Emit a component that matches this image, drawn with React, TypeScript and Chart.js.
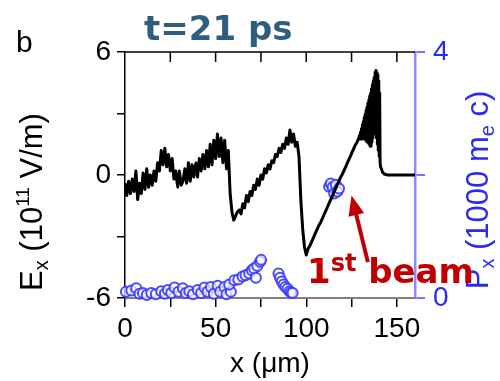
import { useEffect, useRef } from "react";
import { Chart, registerables } from "chart.js";

Chart.register(...registerables);

const SANS = '"Liberation Sans", Arial, Helvetica, sans-serif';
const WIDE_BOLD = '"DejaVu Sans", Verdana, sans-serif';

// Longitudinal field Ex (10^11 V/m), sampled every 1 µm from x = 0 to 129 µm
const EX_STEP_UM = 1;
const exCoarse = [
  -0.4, -1.0, -0.3, -0.9, -0.2, -0.8, 0.2, -1.2, -0.4, -0.9,
  0.1, -0.7, 0.3, -0.6, 0.0, -0.5, 0.2, -0.3, 0.6, 0.2,
  1.2, 0.5, 1.3, 0.4, 1.0, 0.2, 0.8, -0.2, 0.2, -0.6,
  0.2, -0.5, -0.3, 0.3, -0.4, 0.6, -0.3, 0.5, -0.1, 0.6,
  -0.1, 0.8, 0.2, 1.0, 0.3, 1.2, 0.4, 1.5, 0.5, 1.7,
  0.8, 2.0, 0.9, 1.8, 0.6, 1.7, 0.3, 1.2, -0.9, -1.8,
  -2.2, -2.0, -1.8, -1.7, -1.9, -1.4, -1.6, -1.0, -1.3, -0.8,
  -1.0, -0.5, -0.7, -0.2, -0.5, 0.0, -0.2, 0.3, 0.1, 0.5,
  0.3, 0.7, 0.6, 1.0, 0.9, 1.3, 1.1, 1.5, 1.3, 1.8,
  1.5, 2.2, 1.6, 2.0, 1.4, 1.6, 0.9, -1.2, -2.6, -3.5,
  -3.9, -3.6, -3.45, -3.25, -3.05, -2.85, -2.65, -2.45, -2.3, -2.1,
  -1.9, -1.7, -1.5, -1.3, -1.1, -0.9, -0.7, -0.5, -0.3, -0.1,
  0.05, 0.25, 0.45, 0.65, 0.85, 1.05, 1.25, 1.45, 1.6, 1.8,
];

// Finer sampling through the spike at the wake front
const spikeX = [
  129.5, 129.75, 130, 130.25, 130.5, 130.75, 131, 131.25, 131.5, 131.75,
  132, 132.25, 132.5, 132.75, 133, 133.25, 133.5, 133.75, 134, 134.25,
  134.5, 134.75, 135, 135.25, 135.5, 135.75, 136, 136.25, 136.5, 136.75,
  137, 137.25, 137.5, 137.75, 138, 138.25, 138.5, 138.75, 139, 139.25,
  139.5, 139.75, 140, 140.25, 140.5, 140.75, 141, 141.5, 142,
];
const spikeEx = [
  1.95, 1.75, 2.1, 1.8, 2.25, 1.75, 2.45, 1.85, 2.6, 1.8,
  2.8, 1.75, 2.95, 1.7, 3.15, 1.65, 3.3, 1.6, 3.5, 1.55,
  3.65, 1.5, 3.85, 1.4, 4.0, 1.4, 4.2, 1.6, 4.4, 1.8,
  4.6, 2.0, 4.75, 2.1, 5.0, 2.0, 5.1, 1.8, 5.0, 1.5,
  4.9, 1.2, 4.6, 0.9, 4.0, 0.6, 0.4, 0.3, 0.15,
];

// Undisturbed region ahead of the front
const frontX = [143, 145, 160];
const frontEx = [0.05, 0, 0];

// Electron longitudinal momentum Px (1000 me c) against position x (µm)
const electronX = [
  0.5, 3.5, 6.2, 8, 9.9, 12, 14.5, 17, 20, 22,
  23.6, 25.5, 27.3, 29.5, 31.9, 33.5, 35.5, 37.5, 40.1, 42,
  43.8, 45.5, 47.4, 49, 51.1, 52.5, 54.8, 56, 58.4, 57.5,
  60.3, 62.5, 64.8, 66.5, 68.5, 70, 71.2, 72.2, 73, 74.5,
  75.1, 84.7, 85.5, 86.5, 87.5, 88.5, 89.7, 90.8, 91.6, 92.5,
  112.6, 113.5, 114.5, 115.4, 116.3, 117.2, 118.1,
];
const electronPx = [
  0.1, 0.12, 0.16, 0.07, 0.08, 0.05, 0.08, 0.06, 0.11, 0.07,
  0.13, 0.08, 0.17, 0.1, 0.16, 0.08, 0.11, 0.06, 0.13, 0.08,
  0.17, 0.1, 0.18, 0.07, 0.2, 0.1, 0.18, 0.06, 0.1, 0.22,
  0.29, 0.3, 0.35, 0.37, 0.4, 0.45, 0.48, 0.33, 0.52, 0.59,
  0.62, 0.4, 0.33, 0.27, 0.22, 0.18, 0.15, 0.11, 0.09, 0.08,
  1.81, 1.86, 1.8, 1.7, 1.84, 1.73, 1.78,
];

// Axis ranges and labelled ticks
const X_RANGE = [0, 160];
const X_TICK_STEP = 25;
const X_LABELLED = [0, 50, 100, 150];
const EX_RANGE = [-6, 6];
const EX_TICK_STEP = 3;
const EX_LABELLED = [-6, 0, 6];
const PX_RANGE = [0, 4];
const PX_TICK_STEP = 2;
const PX_LABELLED = [0, 4];

// Annotation anchored in data space (x in µm, Ex units)
const beamArrowTip = { x: 125, y: -1.0 };
const beamArrowTail = { x: 134, y: -4.25 };
const beamLabelAt = { x: 100.4, y: -5.27 };

const TITLE_COLOR = "#2f5d7f";
const PX_COLOR = "#2a2af0";
const RED = "#c00000";

type Run = { text: string; size: number; shift?: number };

function drawRuns(
  ctx: CanvasRenderingContext2D,
  runs: Run[],
  family: string,
  weight: string,
  color: string,
  x: number,
  y: number,
  angle: number,
  align: "left" | "center"
) {
  ctx.save();
  ctx.translate(x, y);
  ctx.rotate(angle);
  ctx.fillStyle = color;
  ctx.textAlign = "left";
  ctx.textBaseline = "alphabetic";
  const widths = runs.map((r) => {
    ctx.font = `${weight} ${r.size}px ${family}`;
    return ctx.measureText(r.text).width;
  });
  const total = widths.reduce((a, b) => a + b, 0);
  let cx = align === "center" ? -total / 2 : 0;
  runs.forEach((r, i) => {
    ctx.font = `${weight} ${r.size}px ${family}`;
    ctx.fillText(r.text, cx, r.shift ?? 0);
    cx += widths[i];
  });
  ctx.restore();
}

const decorations = {
  id: "decorations",
  afterDraw(chart: any) {
    const { ctx, chartArea } = chart;
    const xs = chart.scales.x;
    const ys = chart.scales.y;
    ctx.save();

    // top frame with inward ticks
    ctx.strokeStyle = "#000";
    ctx.lineWidth = 1.5;
    ctx.beginPath();
    ctx.moveTo(chartArea.left, chartArea.top);
    ctx.lineTo(chartArea.right, chartArea.top);
    xs.ticks.forEach((t: any) => {
      if (t.value <= X_RANGE[0]) return;
      const px = xs.getPixelForValue(t.value);
      ctx.moveTo(px, chartArea.top);
      ctx.lineTo(px, chartArea.top + 10);
    });
    ctx.stroke();

    // panel letter and time stamp
    ctx.fillStyle = "#000";
    ctx.font = `30px ${SANS}`;
    ctx.textAlign = "left";
    ctx.textBaseline = "alphabetic";
    ctx.fillText("b", 16, 52);
    ctx.fillStyle = TITLE_COLOR;
    ctx.font = `bold 34px ${WIDE_BOLD}`;
    ctx.fillText("t=21 ps", 144, 40);

    // left axis title
    drawRuns(
      ctx,
      [
        { text: "E", size: 31 },
        { text: "x", size: 20, shift: 6 },
        { text: " (10", size: 31 },
        { text: "11", size: 19, shift: -13 },
        { text: " V/m)", size: 31 },
      ],
      SANS,
      "normal",
      "#000",
      42,
      202,
      -Math.PI / 2,
      "center"
    );

    // right axis title
    drawRuns(
      ctx,
      [
        { text: "P", size: 31 },
        { text: "x", size: 20, shift: 6 },
        { text: " (1000 m", size: 31 },
        { text: "e", size: 20, shift: 6 },
        { text: " c)", size: 31 },
      ],
      SANS,
      "normal",
      PX_COLOR,
      488,
      190,
      -Math.PI / 2,
      "center"
    );

    // arrow marking the first electron beam
    const tipX = xs.getPixelForValue(beamArrowTip.x);
    const tipY = ys.getPixelForValue(beamArrowTip.y);
    const tailX = xs.getPixelForValue(beamArrowTail.x);
    const tailY = ys.getPixelForValue(beamArrowTail.y);
    const dx = tipX - tailX;
    const dy = tipY - tailY;
    const len = Math.hypot(dx, dy);
    const ux = dx / len;
    const uy = dy / len;
    const headLen = 20;
    const headHalf = 8;
    const baseX = tipX - ux * headLen;
    const baseY = tipY - uy * headLen;
    ctx.strokeStyle = RED;
    ctx.fillStyle = RED;
    ctx.lineWidth = 4;
    ctx.beginPath();
    ctx.moveTo(tailX, tailY);
    ctx.lineTo(baseX + ux * 2, baseY + uy * 2);
    ctx.stroke();
    ctx.beginPath();
    ctx.moveTo(tipX, tipY);
    ctx.lineTo(baseX - uy * headHalf, baseY + ux * headHalf);
    ctx.lineTo(baseX + uy * headHalf, baseY - ux * headHalf);
    ctx.closePath();
    ctx.fill();

    drawRuns(
      ctx,
      [
        { text: "1", size: 34 },
        { text: "st", size: 24, shift: -12 },
        { text: " beam", size: 34 },
      ],
      WIDE_BOLD,
      "bold",
      RED,
      xs.getPixelForValue(beamLabelAt.x),
      ys.getPixelForValue(beamLabelAt.y),
      0,
      "left"
    );

    ctx.restore();
  },
};

export default function App() {
  const canvasRef = useRef<HTMLCanvasElement | null>(null);

  useEffect(() => {
    const canvas = canvasRef.current;
    if (!canvas) return;

    const fieldPoints = [
      ...exCoarse.map((v, i) => ({ x: i * EX_STEP_UM, y: v })),
      ...spikeX.map((x, i) => ({ x, y: spikeEx[i] })),
      ...frontX.map((x, i) => ({ x, y: frontEx[i] })),
    ];
    const electronPoints = electronX.map((x, i) => ({ x, y: electronPx[i] }));

    const tickFont = { family: SANS, size: 28 };

    const chart = new Chart(canvas, {
      type: "scatter",
      data: {
        datasets: [
          {
            label: "Ex",
            data: fieldPoints,
            yAxisID: "y",
            showLine: true,
            borderColor: "#000",
            borderWidth: 3,
            borderJoinStyle: "round",
            pointRadius: 0,
            // a tiny tension keeps every vertex in the path (no per-pixel merging)
            tension: 0.001,
            order: 0,
          },
          {
            label: "Px",
            data: electronPoints,
            yAxisID: "y2",
            showLine: false,
            pointRadius: 5,
            pointBorderWidth: 2,
            pointBorderColor: "rgba(55,55,255,0.9)",
            pointBackgroundColor: "rgba(255,255,255,0.7)",
            clip: false as any,
            order: 1,
          },
        ],
      },
      options: {
        animation: false,
        responsive: false,
        devicePixelRatio: 1,
        events: [],
        layout: { padding: { top: 52, left: 0, right: 0, bottom: 0 } },
        plugins: { legend: { display: false }, tooltip: { enabled: false } },
        scales: {
          x: {
            type: "linear",
            position: "bottom",
            min: X_RANGE[0],
            max: X_RANGE[1],
            afterFit: (s: any) => {
              s.height = 83;
            },
            ticks: {
              stepSize: X_TICK_STEP,
              includeBounds: false,
              autoSkip: false,
              maxRotation: 0,
              padding: 5,
              color: "#000",
              font: tickFont,
              callback: (v: any) => (X_LABELLED.includes(Number(v)) ? String(v) : ""),
            },
            grid: { drawOnChartArea: false, tickLength: 9, color: "#000", lineWidth: 1.5 },
            border: { color: "#808080", width: 2 },
            title: {
              display: true,
              text: "x (μm)",
              color: "#000",
              font: { family: SANS, size: 28 },
              padding: { top: 0, bottom: 0 },
            },
          },
          y: {
            type: "linear",
            position: "left",
            min: EX_RANGE[0],
            max: EX_RANGE[1],
            afterFit: (s: any) => {
              s.width = 125;
            },
            ticks: {
              stepSize: EX_TICK_STEP,
              includeBounds: false,
              autoSkip: false,
              padding: 6,
              color: "#000",
              font: tickFont,
              callback: (v: any) => (EX_LABELLED.includes(Number(v)) ? String(v) : ""),
            },
            grid: { drawOnChartArea: false, tickLength: 8, color: "#000", lineWidth: 1.5 },
            border: { color: "#000", width: 1.5 },
          },
          y2: {
            type: "linear",
            position: "right",
            min: PX_RANGE[0],
            max: PX_RANGE[1],
            afterFit: (s: any) => {
              s.width = 85;
            },
            ticks: {
              stepSize: PX_TICK_STEP,
              includeBounds: false,
              autoSkip: false,
              padding: 8,
              color: PX_COLOR,
              font: tickFont,
              callback: (v: any) => (PX_LABELLED.includes(Number(v)) ? String(v) : ""),
            },
            grid: {
              drawOnChartArea: false,
              tickLength: 10,
              color: "rgba(90,90,255,0.85)",
              lineWidth: 2,
            },
            border: { color: "rgba(110,110,255,0.8)", width: 2.5 },
          },
        },
      },
      plugins: [decorations],
    });

    return () => chart.destroy();
  }, []);

  return (
    <div style={{ position: "fixed", left: 0, top: 0, width: 500, height: 381, background: "#fff" }}>
      <canvas ref={canvasRef} width={500} height={381} style={{ width: 500, height: 381, display: "block" }} />
    </div>
  );
}
